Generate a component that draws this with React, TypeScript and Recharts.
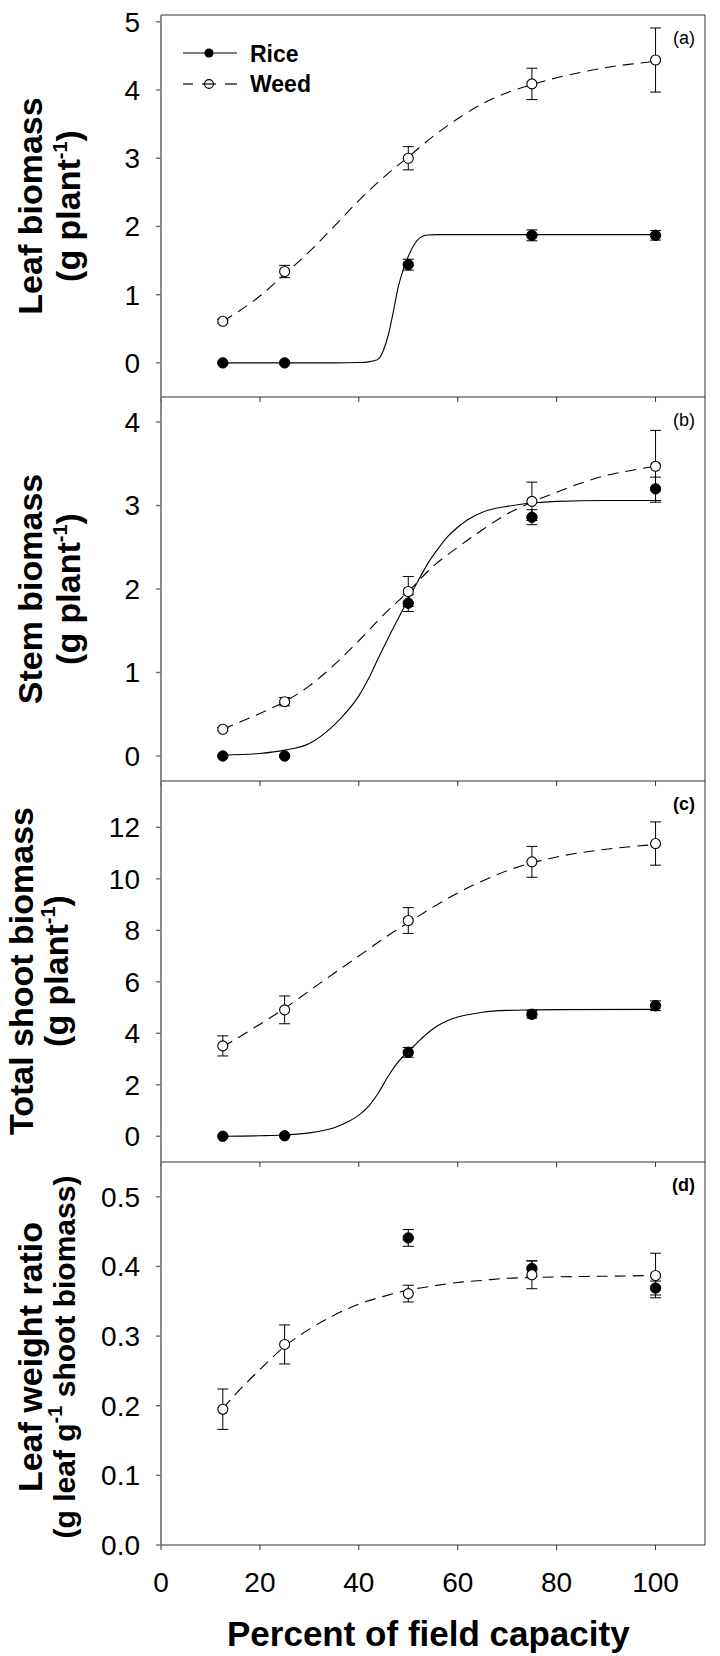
import React from 'react';
import { ComposedChart, Line, Scatter, XAxis, YAxis, ErrorBar, ReferenceLine } from 'recharts';

const FONT = "'Liberation Sans', Arial, Helvetica, sans-serif";

// shared x axis
const xTicks = [0, 20, 40, 60, 80, 100];
const levels = [12.5, 25, 50, 75, 100];

// (a) leaf biomass
const leafRice = [0, 0, 1.44, 1.87, 1.87];
const leafRiceErr = [0, 0, 0.08, 0.08, 0.07];
const leafWeed = [0.61, 1.34, 3.0, 4.09, 4.44];
const leafWeedErr = [0.03, 0.09, 0.17, 0.23, 0.47];
const leafRiceFitX = [12.5, 25, 35, 40, 42, 43, 44, 45, 46, 47, 48, 49, 50, 51, 52, 53, 54, 56, 60, 80, 100];
const leafRiceFitY = [0, 0, 0, 0.005, 0.015, 0.03, 0.06, 0.19, 0.42, 0.76, 1.12, 1.37, 1.56, 1.71, 1.81, 1.86, 1.875, 1.88, 1.88, 1.88, 1.88];
const leafWeedFitX = [12.5, 20, 25, 30, 35, 40, 45, 50, 55, 60, 65, 70, 75, 80, 85, 90, 95, 100];
const leafWeedFitY = [0.61, 0.98, 1.3, 1.63, 2.0, 2.38, 2.72, 3.02, 3.32, 3.58, 3.8, 3.96, 4.08, 4.18, 4.26, 4.33, 4.38, 4.42];

// (b) stem biomass
const stemRice = [0, 0, 1.83, 2.86, 3.2];
const stemRiceErr = [0, 0, 0.1, 0.09, 0.14];
const stemWeed = [0.32, 0.65, 1.97, 3.05, 3.47];
const stemWeedErr = [0.02, 0.05, 0.18, 0.23, 0.43];
const stemRiceFitX = [12.5, 20, 25, 30, 35, 38, 40, 42, 44, 46, 48, 50, 52, 54, 56, 58, 60, 62, 65, 68, 70, 75, 80, 90, 100];
const stemRiceFitY = [0.01, 0.03, 0.07, 0.15, 0.37, 0.56, 0.72, 0.93, 1.18, 1.42, 1.65, 1.88, 2.1, 2.31, 2.48, 2.63, 2.74, 2.83, 2.92, 2.97, 2.99, 3.03, 3.05, 3.06, 3.06];
const stemWeedFitX = [12.5, 20, 25, 30, 35, 40, 45, 50, 55, 60, 65, 70, 75, 80, 85, 90, 95, 100];
const stemWeedFitY = [0.32, 0.51, 0.65, 0.84, 1.09, 1.38, 1.69, 1.97, 2.27, 2.5, 2.71, 2.9, 3.04, 3.16, 3.27, 3.36, 3.42, 3.47];

// (c) total shoot biomass
const shootRice = [0, 0.02, 3.26, 4.74, 5.07];
const shootRiceErr = [0, 0, 0.19, 0.15, 0.19];
const shootWeed = [3.51, 4.91, 8.38, 10.66, 11.37];
const shootWeedErr = [0.39, 0.54, 0.5, 0.6, 0.84];
const shootRiceFitX = [12.5, 20, 25, 30, 35, 38, 40, 42, 44, 46, 48, 50, 52, 54, 56, 58, 60, 62, 65, 70, 75, 80, 100];
const shootRiceFitY = [0, 0.02, 0.05, 0.13, 0.33, 0.58, 0.82, 1.17, 1.7, 2.35, 2.9, 3.3, 3.67, 4.02, 4.3, 4.5, 4.63, 4.72, 4.82, 4.89, 4.91, 4.92, 4.93];
const shootWeedFitX = [12.5, 20, 25, 30, 35, 40, 45, 50, 55, 60, 65, 70, 75, 80, 85, 90, 95, 100];
const shootWeedFitY = [3.47, 4.35, 4.97, 5.65, 6.33, 7.0, 7.68, 8.3, 8.9, 9.45, 9.92, 10.32, 10.62, 10.85, 11.02, 11.15, 11.25, 11.33];

// (d) leaf weight ratio (no rice leaves at the two driest levels)
const ratioLevels = [50, 75, 100];
const ratioRice = [0.441, 0.397, 0.369];
const ratioRiceErr = [0.012, 0.011, 0.01];
const ratioWeed = [0.195, 0.288, 0.361, 0.388, 0.387];
const ratioWeedErr = [0.029, 0.028, 0.012, 0.02, 0.032];
const ratioWeedFitX = [12.5, 15, 20, 25, 30, 35, 40, 45, 50, 55, 60, 65, 70, 75, 80, 90, 100];
const ratioWeedFitY = [0.196, 0.216, 0.252, 0.285, 0.31, 0.33, 0.346, 0.357, 0.366, 0.372, 0.377, 0.38, 0.383, 0.384, 0.385, 0.386, 0.387];

const pts = (xs: number[], ys: number[], errs?: number[]) =>
  xs.map((x, i) => ({ x, y: ys[i], err: errs ? errs[i] : undefined }));

const filledDot = (p: any) => <circle cx={p.cx} cy={p.cy} r={5.2} fill="#000" stroke="#000" strokeWidth={1} />;
const openDot = (p: any) => <circle cx={p.cx} cy={p.cy} r={5} fill="#fff" stroke="#000" strokeWidth={1.1} />;

type PanelProps = {
  top: number;
  plotH: number;
  domain: [number, number];
  ticks: number[];
  fmt?: (v: number) => string;
  rice: any[];
  weed: any[];
  riceFit?: any[];
  weedFit: any[];
  last?: boolean;
  topBorder?: boolean;
};

function Panel({ top, plotH, domain, ticks, fmt, rice, weed, riceFit, weedFit, last, topBorder }: PanelProps) {
  const mTop = 10;
  const xH = last ? 70 : 10;
  return (
    <div style={{ position: 'absolute', left: 0, top: top - mTop }}>
      <ComposedChart width={720} height={mTop + plotH + xH} margin={{ top: mTop, right: 15, bottom: 0, left: 81 }}>
        <XAxis
          type="number"
          dataKey="x"
          domain={[0, 110]}
          ticks={xTicks}
          interval={0}
          allowDataOverflow
          height={xH}
          axisLine={{ stroke: '#333', strokeWidth: 1 }}
          tickLine={{ stroke: '#333', strokeWidth: 1 }}
          tickSize={5}
          tickMargin={22}
          tick={{ fontSize: 28, fill: '#000', fontFamily: FONT }}
          tickFormatter={last ? undefined : () => ''}
        />
        <YAxis
          type="number"
          dataKey="y"
          domain={domain}
          ticks={ticks}
          interval={0}
          allowDataOverflow
          width={80}
          axisLine={{ stroke: '#6e6e6e', strokeWidth: 1.6 }}
          tickLine={{ stroke: '#6e6e6e', strokeWidth: 1.4 }}
          tickSize={5}
          tickMargin={16}
          tick={{ fontSize: 28, fill: '#000', fontFamily: FONT }}
          tickFormatter={fmt}
        />
        <ReferenceLine x={110} stroke="#333" strokeWidth={1} />
        {topBorder && <ReferenceLine y={domain[1]} stroke="#333" strokeWidth={1} />}
        {riceFit && (
          <Line data={riceFit} dataKey="y" type="monotone" stroke="#000" strokeWidth={1.1} dot={false} activeDot={false} isAnimationActive={false} />
        )}
        <Line data={weedFit} dataKey="y" type="monotone" stroke="#000" strokeWidth={1.1} strokeDasharray="11 7" dot={false} activeDot={false} isAnimationActive={false} />
        <Scatter data={rice} shape={filledDot} isAnimationActive={false}>
          <ErrorBar dataKey="err" direction="y" width={5.5} stroke="#000" strokeWidth={1} isAnimationActive={false} />
        </Scatter>
        <Scatter data={weed} shape={openDot} isAnimationActive={false}>
          <ErrorBar dataKey="err" direction="y" width={5.5} stroke="#000" strokeWidth={1} isAnimationActive={false} />
        </Scatter>
      </ComposedChart>
    </div>
  );
}

type TitleProps = { cy: number; x1: number; x2: number; line1: string; line2: string; tail: string; size2?: number };

function YTitle({ cy, x1, x2, line1, line2, tail, size2 = 34 }: TitleProps) {
  return (
    <g fontFamily={FONT} fontWeight="bold" fill="#000">
      <text transform={`translate(${x1}, ${cy}) rotate(-90)`} textAnchor="middle" fontSize={34}>
        {line1}
      </text>
      <text transform={`translate(${x2}, ${cy}) rotate(-90)`} textAnchor="middle" fontSize={size2}>
        <tspan>{line2}</tspan>
        <tspan fontSize={20} dy={-13}>-1</tspan>
        <tspan dy={13}>{tail}</tspan>
      </text>
    </g>
  );
}

export default function App() {
  return (
    <div style={{ position: 'absolute', left: 0, top: 0, width: 720, height: 1656, background: '#fff' }}>
      <Panel
        top={15}
        plotH={382}
        domain={[-0.5, 5.1]}
        ticks={[0, 1, 2, 3, 4, 5]}
        rice={pts(levels, leafRice, leafRiceErr)}
        weed={pts(levels, leafWeed, leafWeedErr)}
        riceFit={pts(leafRiceFitX, leafRiceFitY)}
        weedFit={pts(leafWeedFitX, leafWeedFitY)}
        topBorder
      />
      <Panel
        top={397}
        plotH={384}
        domain={[-0.3, 4.3]}
        ticks={[0, 1, 2, 3, 4]}
        rice={pts(levels, stemRice, stemRiceErr)}
        weed={pts(levels, stemWeed, stemWeedErr)}
        riceFit={pts(stemRiceFitX, stemRiceFitY)}
        weedFit={pts(stemWeedFitX, stemWeedFitY)}
      />
      <Panel
        top={781}
        plotH={381}
        domain={[-1, 13.8]}
        ticks={[0, 2, 4, 6, 8, 10, 12]}
        rice={pts(levels, shootRice, shootRiceErr)}
        weed={pts(levels, shootWeed, shootWeedErr)}
        riceFit={pts(shootRiceFitX, shootRiceFitY)}
        weedFit={pts(shootWeedFitX, shootWeedFitY)}
      />
      <Panel
        top={1162}
        plotH={383}
        domain={[0, 0.55]}
        ticks={[0, 0.1, 0.2, 0.3, 0.4, 0.5]}
        fmt={(v) => v.toFixed(1)}
        rice={pts(ratioLevels, ratioRice, ratioRiceErr)}
        weed={pts(levels, ratioWeed, ratioWeedErr)}
        weedFit={pts(ratioWeedFitX, ratioWeedFitY)}
        last
      />
      <svg width={720} height={1656} style={{ position: 'absolute', left: 0, top: 0, pointerEvents: 'none' }}>
        <YTitle cy={206} x1={42} x2={80} line1="Leaf biomass" line2="(g plant" tail=")" />
        <YTitle cy={589} x1={42} x2={80} line1="Stem biomass" line2="(g plant" tail=")" />
        <YTitle cy={971} x1={33} x2={68} line1="Total shoot biomass" line2="(g plant" tail=")" />
        <YTitle cy={1357} x1={42} x2={75} line1="Leaf weight ratio" line2="(g leaf g" tail=" shoot biomass)" size2={30} />

        <text x={227} y={1646} fontFamily={FONT} fontWeight="bold" fontSize={35} fill="#000">
          Percent of field capacity
        </text>

        {/* legend */}
        <g fontFamily={FONT} fontWeight="bold" fontSize={23} fill="#000">
          <line x1={183} y1={53} x2={237} y2={53} stroke="#000" strokeWidth={1.2} />
          <circle cx={209} cy={53} r={4.6} fill="#000" />
          <text x={250} y={61.5}>Rice</text>
          <line x1={183} y1={84} x2={193} y2={84} stroke="#000" strokeWidth={1.2} />
          <line x1={202} y1={84} x2={216} y2={84} stroke="#000" strokeWidth={1.2} />
          <line x1={225} y1={84} x2={237} y2={84} stroke="#000" strokeWidth={1.2} />
          <circle cx={209} cy={84} r={4.4} fill="none" stroke="#000" strokeWidth={1.1} />
          <text x={250} y={91.5}>Weed</text>
        </g>

        <g fontFamily={FONT} fontSize={18} fill="#000" textAnchor="end">
          <text x={695} y={44}>(a)</text>
          <text x={695} y={426}>(b)</text>
          <text x={695} y={810} fontWeight="bold">(c)</text>
          <text x={695} y={1191} fontWeight="bold">(d)</text>
        </g>
      </svg>
    </div>
  );
}
